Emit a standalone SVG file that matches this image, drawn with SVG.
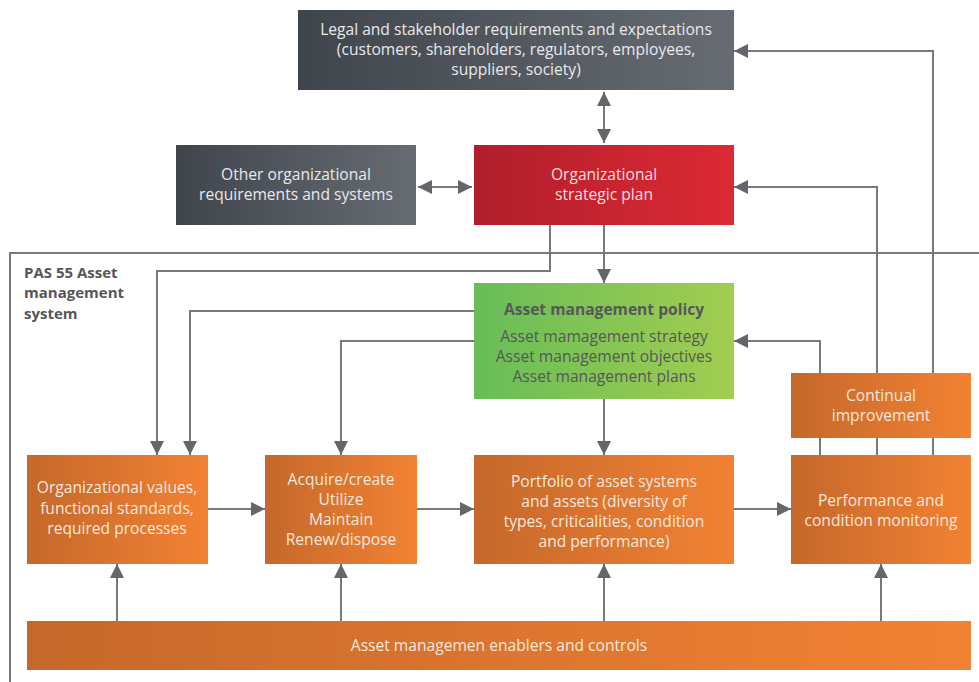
<svg xmlns="http://www.w3.org/2000/svg" width="979" height="682" viewBox="0 0 979 682">
<style>
.t{font-family:"Open Sans",Lato,"Liberation Sans",sans-serif;font-size:15.6px;text-anchor:middle;dominant-baseline:central}
.lt{fill:#f6e7dc}
.gt{fill:#e8e9eb}
.dk{fill:#55585a}
.b{font-weight:bold}
.c{fill:none;stroke:#77797d;stroke-width:2}
.lbl{font-family:"Open Sans",Lato,"Liberation Sans",sans-serif;font-size:15px;font-weight:bold;fill:#55565a}
</style>
<defs>
<linearGradient id="gd" x1="0" x2="1" y1="0" y2="0"><stop offset="0" stop-color="#40454d"/><stop offset="1" stop-color="#676b72"/></linearGradient>
<linearGradient id="gr" x1="0" x2="1" y1="0" y2="0"><stop offset="0" stop-color="#b01e2b"/><stop offset="1" stop-color="#dc2a35"/></linearGradient>
<linearGradient id="gg" x1="0" x2="1" y1="0" y2="0"><stop offset="0" stop-color="#68bd58"/><stop offset="1" stop-color="#a2cd50"/></linearGradient>
<linearGradient id="go" x1="0" x2="1" y1="0" y2="0"><stop offset="0" stop-color="#c5682b"/><stop offset="1" stop-color="#f28233"/></linearGradient>
<marker id="a" viewBox="0 0 10 10" refX="10" refY="5" markerWidth="14" markerHeight="14" markerUnits="userSpaceOnUse" orient="auto-start-reverse"><path d="M0,0 L10,5 L0,10 Z" fill="#63666a"/></marker>
</defs>

<g id="frame">
<path d="M979,253 H10 V682" fill="none" stroke="#77797d" stroke-width="2"/>
<text class="lbl" x="24" y="277.5">PAS 55 Asset</text>
<text class="lbl" x="24" y="298">management</text>
<text class="lbl" x="24" y="318.5">system</text>
</g>

<g id="connectors">
<path class="c" d="M604,92 V143" marker-start="url(#a)" marker-end="url(#a)"/>
<path class="c" d="M418,187 H472" marker-start="url(#a)" marker-end="url(#a)"/>
<path class="c" d="M604,225 V283" marker-end="url(#a)"/>
<path class="c" d="M550,225 V271 H157 V455" marker-end="url(#a)"/>
<path class="c" d="M474,311 H190 V455" marker-end="url(#a)"/>
<path class="c" d="M474,341 H341 V455" marker-end="url(#a)"/>
<path class="c" d="M604,399 V455" marker-end="url(#a)"/>
<path class="c" d="M820,455 V341 H734" marker-end="url(#a)"/>
<path class="c" d="M877,455 V187 H734" marker-end="url(#a)"/>
<path class="c" d="M933,455 V51 H734" marker-end="url(#a)"/>
<path class="c" d="M208,509 H265" marker-end="url(#a)"/>
<path class="c" d="M417,509 H474" marker-end="url(#a)"/>
<path class="c" d="M734,509 H791" marker-end="url(#a)"/>
<path class="c" d="M117,621 V564" marker-end="url(#a)"/>
<path class="c" d="M341,621 V564" marker-end="url(#a)"/>
<path class="c" d="M604,621 V564" marker-end="url(#a)"/>
<path class="c" d="M881,621 V564" marker-end="url(#a)"/>
</g>

<g id="legal">
<rect x="298" y="10" width="436" height="80" fill="url(#gd)"/>
<text class="t gt" x="516" y="28.5">Legal and stakeholder requirements and expectations</text>
<text class="t gt" x="516" y="48.5">(customers, shareholders, regulators, employees,</text>
<text class="t gt" x="516" y="68.5">suppliers, society)</text>
</g>

<g id="other">
<rect x="176" y="145" width="240" height="80" fill="url(#gd)"/>
<text class="t gt" x="296" y="173.5">Other organizational</text>
<text class="t gt" x="296" y="193.5">requirements and systems</text>
</g>

<g id="strategic">
<rect x="474" y="145" width="260" height="80" fill="url(#gr)"/>
<text class="t" fill="#f6dede" x="604" y="173.5">Organizational</text>
<text class="t" fill="#f6dede" x="604" y="193.5">strategic plan</text>
</g>

<g id="policy">
<rect x="474" y="283" width="260" height="116" fill="url(#gg)"/>
<text class="t dk b" x="604" y="308.5">Asset management policy</text>
<text class="t dk" x="604" y="335.5">Asset mamagement strategy</text>
<text class="t dk" x="604" y="355.5">Asset management objectives</text>
<text class="t dk" x="604" y="375.5">Asset management plans</text>
</g>

<g id="continual">
<rect x="791" y="373" width="180" height="65" fill="url(#go)"/>
<text class="t lt" x="881" y="394.5">Continual</text>
<text class="t lt" x="881" y="414.5">improvement</text>
</g>

<g id="values">
<rect x="27" y="455" width="181" height="109" fill="url(#go)"/>
<text class="t lt" x="117" y="486.5">Organizational values,</text>
<text class="t lt" x="117" y="507.5">functional standards,</text>
<text class="t lt" x="117" y="527.5">required processes</text>
</g>

<g id="lifecycle">
<rect x="265" y="455" width="152" height="109" fill="url(#go)"/>
<text class="t lt" x="341" y="478.5">Acquire/create</text>
<text class="t lt" x="341" y="498.5">Utilize</text>
<text class="t lt" x="341" y="518.5">Maintain</text>
<text class="t lt" x="341" y="539">Renew/dispose</text>
</g>

<g id="portfolio">
<rect x="474" y="455" width="260" height="109" fill="url(#go)"/>
<text class="t lt" x="604" y="480.5">Portfolio of asset systems</text>
<text class="t lt" x="604" y="500.5">and assets (diversity of</text>
<text class="t lt" x="604" y="520.5">types, criticalities, condition</text>
<text class="t lt" x="604" y="540.5">and performance)</text>
</g>

<g id="monitoring">
<rect x="791" y="455" width="180" height="109" fill="url(#go)"/>
<text class="t lt" x="881" y="499.5">Performance and</text>
<text class="t lt" x="881" y="519.5">condition monitoring</text>
</g>

<g id="enablers">
<rect x="27" y="621" width="944" height="49" fill="url(#go)"/>
<text class="t lt" x="499" y="644.5">Asset managemen enablers and controls</text>
</g>
</svg>
